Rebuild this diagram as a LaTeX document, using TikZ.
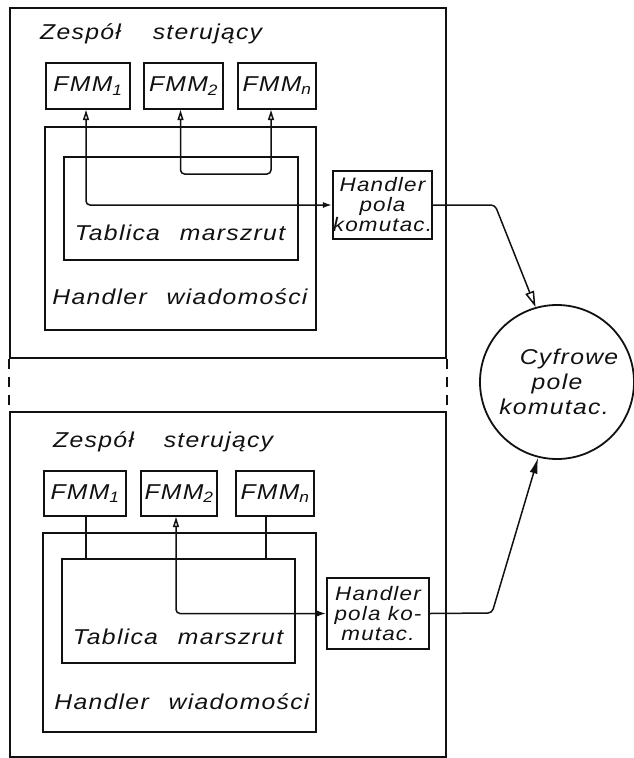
\documentclass[tikz,border=0pt]{standalone}
\usepackage{fontspec}
\usepackage{tikz}
\usetikzlibrary{arrows.meta,positioning,calc}
\newfontfamily\handfont{Liberation Sans}[FakeStretch=1.15,LetterSpace=6]
\definecolor{ink}{HTML}{111111}
\newcommand{\wgap}{\hspace{20pt}}
\tikzset{
  every node/.style={font=\handfont\itshape\fontsize{21.5}{25}\selectfont, text=ink},
  frame/.style={draw=ink, line width=1.6pt, inner sep=0pt},
  blk/.style={draw=ink, line width=2pt, inner sep=0pt, align=center},
  smallblk/.style={blk, font=\handfont\itshape\fontsize{19.5}{20}\selectfont},
  hand/.style={inner sep=0pt},
  link/.style={draw=ink, line width=1.5pt, rounded corners=4pt},
  bigopen/.style={link, -{Triangle[open, length=16pt, width=9pt]}},
  bigfill/.style={link, -{Latex[length=16pt, width=8pt]}},
  gap/.style={draw=ink, line width=1.6pt, dash pattern=on 10pt off 8pt},
}
\begin{document}
\begin{tikzpicture}[x=1pt, y=-1pt]
\useasboundingbox (0,0) rectangle (633,758);
% upper control unit
\node[frame, minimum width=436pt, minimum height=350pt] (ctla) at (228,183) {};
\node[hand, anchor=west] (titlea) at (40,34) {Zespół\hspace{32pt}sterujący};
\node[blk, minimum width=84pt, minimum height=46pt] (fmm1a) at (88,86) {FMM\textsubscript{1}};
\node[blk, minimum width=79pt, minimum height=46pt] (fmm2a) at (183.5,86) {FMM\textsubscript{2}};
\node[blk, minimum width=78pt, minimum height=46pt] (fmmna) at (277,86) {FMM\textsubscript{n}};
\node[blk, minimum width=271pt, minimum height=203pt] (hwa) at (180.5,228.5) {};
\node[blk, minimum width=234pt, minimum height=103pt] (taba) at (181,208.5) {};
\node[hand] (tabatxt) at (180,233) {Tablica\wgap marszrut};
\node[hand] (hwatxt) at (180,297) {Handler\wgap wiadomości};
\node[smallblk, minimum width=99pt, minimum height=68pt] (hpa) at (382.5,205) {Handler\\pola\\komutac.};
\draw[link, {Triangle[open, length=10pt, width=6pt]}-{Latex[length=9pt, width=6pt]}] ([xshift=-2pt]fmm1a.south) |- (hpa.west);
\draw[link, {Triangle[open, length=10pt, width=6pt]}-{Triangle[open, length=10pt, width=6pt]}] ([xshift=-3pt]fmm2a.south) -- ++(0,64) -| ([xshift=-6pt]fmmna.south);
% lower control unit
\node[frame, minimum width=436pt, minimum height=345pt] (ctlb) at (228,584.5) {};
\node[hand, anchor=west] (titleb) at (53,442) {Zespół\hspace{30pt}sterujący};
\node[blk, minimum width=82pt, minimum height=45pt] (fmm1b) at (85,493.5) {FMM\textsubscript{1}};
\node[blk, minimum width=76pt, minimum height=45pt] (fmm2b) at (179,493.5) {FMM\textsubscript{2}};
\node[blk, minimum width=78pt, minimum height=45pt] (fmmnb) at (275,493.5) {FMM\textsubscript{n}};
\node[blk, minimum width=273pt, minimum height=199pt] (hwb) at (179.5,632.5) {};
\node[blk, minimum width=233pt, minimum height=104pt] (tabb) at (178.5,611) {};
\node[hand] (tabbtxt) at (178,637) {Tablica\wgap marszrut};
\node[hand] (hwbtxt) at (182,702) {Handler\wgap wiadomości};
\node[smallblk, minimum width=102pt, minimum height=71pt] (hpb) at (378,613.5) {Handler\\pola ko-\\mutac.};
\draw[link] ([xshift=1pt]fmm1b.south) -- ([xshift=1pt]fmm1b.south |- tabb.north);
\draw[link] ([xshift=-9pt]fmmnb.south) -- ([xshift=-9pt]fmmnb.south |- tabb.north);
\draw[link, {Latex[length=9pt, width=6pt]}-{Triangle[open, length=10pt, width=6pt]}] (hpb.west) -| ([xshift=-3pt]fmm2b.south);
% digital switching field
\node[circle, draw=ink, line width=1.8pt, minimum size=154pt, inner sep=0pt, align=center] (cfp) at (557,382) {\hspace*{24pt}Cyfrowe\\pole\\komutac.\hspace*{6pt}};
\coordinate (benda) at (495,205);
\coordinate (bendb) at (492,613);
\draw[bigopen] (hpa.east) -- (benda) -- (cfp.106);
\draw[bigfill] (hpb.east) -- (bendb) -- (cfp.256);
\draw[gap] (ctla.south west) -- (ctlb.north west);
\draw[gap] (ctla.south east) -- (ctlb.north east);
\end{tikzpicture}
\end{document}
